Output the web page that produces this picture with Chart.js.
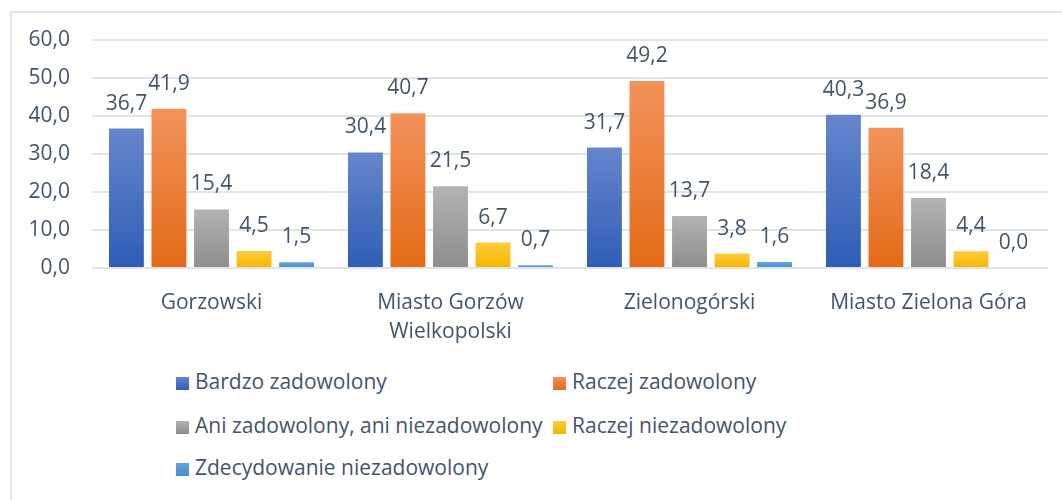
<!DOCTYPE html>
<html>
<head>
<meta charset="utf-8">
<script src="https://cdn.jsdelivr.net/npm/chart.js@4"></script>
<style>
  body { margin:0; background:#fff; font-family: "Open Sans", sans-serif; }
  #wrap { position:relative; width:1062px; height:500px; overflow:hidden; }
  #frame { position:absolute; left:10px; top:11px; width:1100px; height:600px; border:2px solid #e3e6eb; box-sizing:border-box; }
  #chartBox { position:absolute; left:0; top:0; width:1062px; height:355px; }
  .lg { position:absolute; font-size:21px; color:#44546a; white-space:nowrap; line-height:24px; }
  .lg span { display:inline-block; width:13px; height:13px; margin-right:6px; vertical-align:-1px; }
</style>
</head>
<body>
<div id="wrap">
  <div id="frame"></div>
  <div id="chartBox"><canvas id="chart" width="1062" height="355"></canvas></div>
  <div id="legend"></div>
</div>
<script>
// Dane z wykresu
const categories = ['Gorzowski', ['Miasto Gorzów', 'Wielkopolski'], 'Zielonogórski', 'Miasto Zielona Góra'];
const seriesNames = ['Bardzo zadowolony', 'Raczej zadowolony', 'Ani zadowolony, ani niezadowolony', 'Raczej niezadowolony', 'Zdecydowanie niezadowolony'];
const bardzoZadowolony = [36.7, 30.4, 31.7, 40.3];
const raczejZadowolony = [41.9, 40.7, 49.2, 36.9];
const aniAni = [15.4, 21.5, 13.7, 18.4];
const raczejNiezadowolony = [4.5, 6.7, 3.8, 4.4];
const zdecydowanieNiezadowolony = [1.5, 0.7, 1.6, 0.0];
const yTicks = [0, 10, 20, 30, 40, 50, 60];

// kolory: [gora, dol] gradientu
const colors = [
  ['#6686cb', '#2e5db6'],
  ['#f2935c', '#e36a16'],
  ['#b3b3b3', '#8d8d8d'],
  ['#ffcb3d', '#f4b700'],
  ['#65a3dd', '#4a8ad0']
];
const textColor = '#44546a';
const fontFam = '"Open Sans", sans-serif';
const fontSize = 21;

function fmt(v){ return v.toFixed(1).replace('.', ','); }

// gradient dla kazdego slupka osobno
function barFill(idx){
  return (ctx) => {
    const chart = ctx.chart;
    if(!chart.chartArea || ctx.type !== 'data') return colors[idx][0];
    const y = chart.scales.y;
    const top = y.getPixelForValue(ctx.raw);
    const bottom = y.getPixelForValue(0);
    if(bottom - top < 1) return colors[idx][1];
    const g = chart.ctx.createLinearGradient(0, top, 0, bottom);
    g.addColorStop(0, colors[idx][0]);
    g.addColorStop(1, colors[idx][1]);
    return g;
  };
}

const allData = [bardzoZadowolony, raczejZadowolony, aniAni, raczejNiezadowolony, zdecydowanieNiezadowolony];

// etykiety wartosci nad slupkami
const valueLabels = {
  id: 'valueLabels',
  afterDatasetsDraw(chart){
    const c = chart.ctx;
    c.save();
    c.font = fontSize + 'px ' + fontFam;
    c.fillStyle = textColor;
    c.textAlign = 'center';
    c.textBaseline = 'alphabetic';
    chart.data.datasets.forEach((ds, i) => {
      chart.getDatasetMeta(i).data.forEach((bar, j) => {
        c.fillText(fmt(ds.data[j]), bar.x, bar.y - 19);
      });
    });
    c.restore();
  }
};

new Chart(document.getElementById('chart'), {
  type: 'bar',
  data: {
    labels: categories,
    datasets: allData.map((d, i) => ({
      label: seriesNames[i],
      data: d,
      backgroundColor: barFill(i),
      borderWidth: 0,
      categoryPercentage: 0.89,
      barPercentage: 0.82
    }))
  },
  options: {
    responsive: false,
    animation: false,
    layout: { padding: { top: 40, right: 14, left: 0, bottom: 0 } },
    plugins: { legend: { display: false }, tooltip: { enabled: false } },
    scales: {
      x: {
        grid: { display: false },
        border: { display: false },
        ticks: { color: textColor, font: { family: fontFam, size: fontSize, lineHeight: 1.38 }, padding: 13, maxRotation: 0 },
        afterFit(scale){ scale.height = 87; }
      },
      y: {
        min: 0, max: 60,
        afterBuildTicks(scale){ scale.ticks = yTicks.map(v => ({ value: v })); },
        grid: { color: '#e0e3e8', lineWidth: 2, drawTicks: false },
        border: { display: false },
        ticks: { color: textColor, font: { family: fontFam, size: fontSize }, padding: 22, callback: v => fmt(v) },
        afterFit(scale){ scale.width = 92; }
      }
    }
  },
  plugins: [valueLabels]
});

// legenda w dwoch kolumnach
const legendPos = [[176, 369], [553, 369], [176, 413], [553, 413], [176, 455]];
const legend = document.getElementById('legend');
seriesNames.forEach((name, i) => {
  const d = document.createElement('div');
  d.className = 'lg';
  d.style.left = legendPos[i][0] + 'px';
  d.style.top = legendPos[i][1] + 'px';
  const sw = document.createElement('span');
  sw.style.background = `linear-gradient(${colors[i][0]}, ${colors[i][1]})`;
  d.appendChild(sw);
  d.appendChild(document.createTextNode(name));
  legend.appendChild(d);
});
</script>
</body>
</html>
